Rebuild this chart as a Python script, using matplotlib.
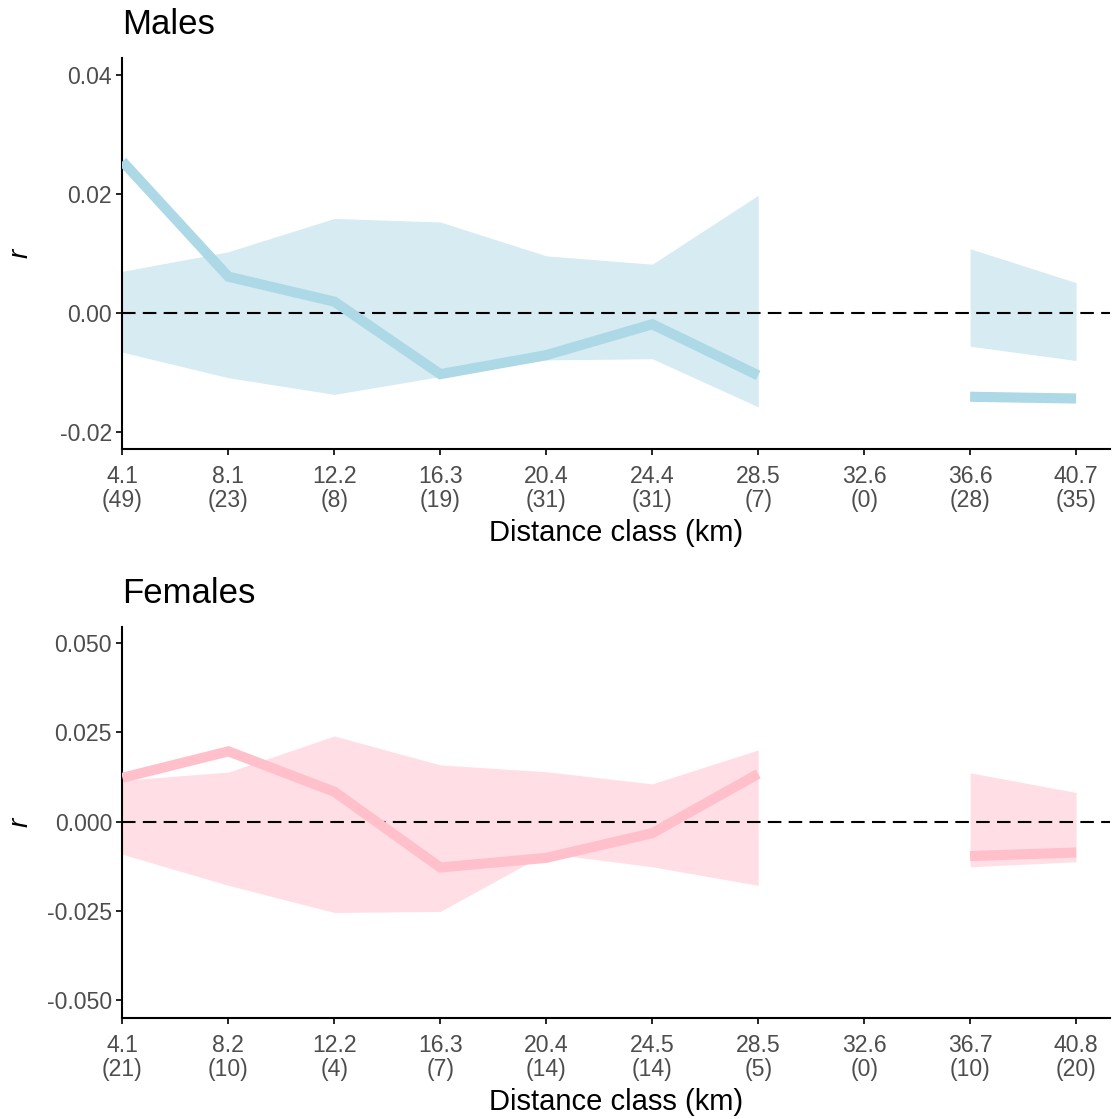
import numpy as np
import matplotlib
matplotlib.use("Agg")
import matplotlib.pyplot as plt

plt.rcParams['font.family'] = ['Liberation Sans', 'DejaVu Sans']

# --- data ---
male_dist = ["4.1", "8.1", "12.2", "16.3", "20.4", "24.4", "28.5", "32.6", "36.6", "40.7"]
male_n = [49, 23, 8, 19, 31, 31, 7, 0, 28, 35]
male_r = [0.0255, 0.0061, 0.0019, -0.0103, -0.0071, -0.0019, -0.0105, np.nan, -0.0141, -0.0144]
male_hi = [0.0070, 0.0103, 0.0159, 0.0153, 0.0096, 0.0082, 0.0198, np.nan, 0.0108, 0.0051]
male_lo = [-0.0066, -0.0109, -0.0137, -0.0107, -0.0079, -0.0077, -0.0158, np.nan, -0.0056, -0.0080]

female_dist = ["4.1", "8.2", "12.2", "16.3", "20.4", "24.5", "28.5", "32.6", "36.7", "40.8"]
female_n = [21, 10, 4, 7, 14, 14, 5, 0, 10, 20]
female_r = [0.0123, 0.0197, 0.0084, -0.0128, -0.0101, -0.0032, 0.0134, np.nan, -0.0096, -0.0086]
female_hi = [0.0116, 0.0139, 0.0240, 0.0159, 0.0140, 0.0106, 0.0201, np.nan, 0.0137, 0.0082]
female_lo = [-0.0091, -0.0178, -0.0254, -0.0251, -0.0088, -0.0126, -0.0178, np.nan, -0.0126, -0.0112]


def segments(vals):
    # contiguous runs of non-missing values
    ok = ~np.isnan(np.asarray(vals, dtype=float))
    runs, start = [], None
    for i, v in enumerate(ok):
        if v and start is None:
            start = i
        if not v and start is not None:
            runs.append((start, i))
            start = None
    if start is not None:
        runs.append((start, len(ok)))
    return runs


def panel(ax, title, dist, n, r, lo, hi, line_col, fill_col, yticks, ylim, fmt):
    x = np.arange(len(dist))
    r, lo, hi = (np.asarray(v, dtype=float) for v in (r, lo, hi))
    for a, b in segments(r):
        ax.fill_between(x[a:b], lo[a:b], hi[a:b], color=fill_col, lw=0, zorder=1)
    ax.axhline(0, color='black', lw=1.5, ls=(0, (6.5, 3.5)), zorder=2)
    for a, b in segments(r):
        ax.plot(x[a:b], r[a:b], color=line_col, lw=7.3, solid_capstyle='butt',
                solid_joinstyle='miter', zorder=3)

    ax.set_xlim(0, 9.32)
    ax.set_ylim(*ylim)
    ax.set_xticks(x)
    ax.set_xticklabels([f"{d}\n({k})" for d, k in zip(dist, n)], linespacing=1.07)
    ax.set_yticks(yticks)
    ax.set_yticklabels([fmt.format(v) for v in yticks])
    ax.tick_params(labelsize=16.6, labelcolor='#4D4D4D', length=4.5, width=1.2)
    ax.tick_params(axis='x', pad=7)
    ax.tick_params(axis='y', pad=3)
    for s in ('top', 'right'):
        ax.spines[s].set_visible(False)
    for s in ('left', 'bottom'):
        ax.spines[s].set_linewidth(1.5)
    ax.set_xlabel("Distance class (km)", fontsize=21, labelpad=5)
    ax.set_ylabel("r", fontsize=20, style='italic')
    ax.yaxis.set_label_coords(-0.090, 0.5)
    ax.set_title(title, loc='left', fontsize=25, pad=17)


fig = plt.figure(figsize=(11.13, 11.19), dpi=100)
ax1 = fig.add_axes([0.110, 0.5987, 0.8873, 0.3495])
ax2 = fig.add_axes([0.110, 0.0903, 0.8873, 0.3494])

panel(ax1, "Males", male_dist, male_n, male_r, male_lo, male_hi,
      '#ADD8E6', '#D6EBF2', [-0.02, 0.0, 0.02, 0.04], (-0.0229, 0.0429), "{:.2f}")
panel(ax2, "Females", female_dist, female_n, female_r, female_lo, female_hi,
      '#FFC0CB', '#FFDFE5', [-0.05, -0.025, 0.0, 0.025, 0.05], (-0.0549, 0.0545), "{:.3f}")

fig.savefig("out.png", dpi=100)
